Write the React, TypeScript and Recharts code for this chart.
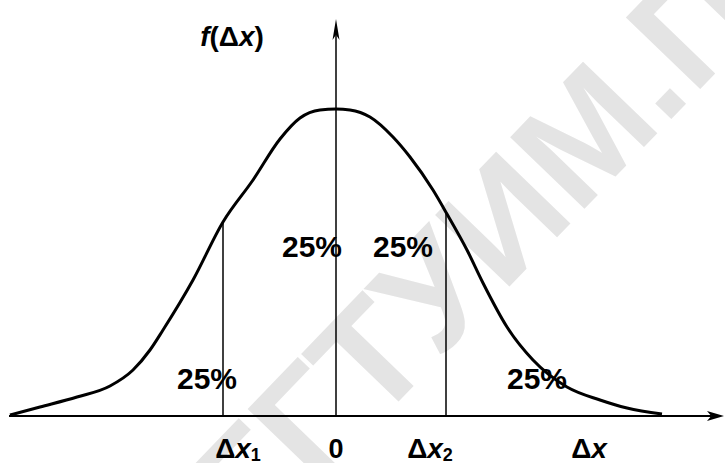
import { ComposedChart, Line, XAxis, YAxis, ReferenceLine, ReferenceDot } from 'recharts';

// density curve f(Δx), read point by point
const curveX = [-3.26, -2.96, -2.59, -2.26, -2.03, -1.86, -1.73, -1.43, -1.13, -0.83, -0.56, -0.36, -0.16, 0, 0.14, 0.34, 0.57, 0.74, 0.97, 1.11, 1.31, 1.47, 1.71, 1.97, 2.31, 2.64, 2.91, 3.26];
const curveF = [0.01, 0.09, 0.19, 0.3, 0.46, 0.66, 0.86, 1.36, 1.94, 2.36, 2.77, 2.98, 3.06, 3.07, 3.06, 2.99, 2.79, 2.59, 2.26, 2.02, 1.66, 1.33, 0.89, 0.56, 0.29, 0.16, 0.08, 0.02];

// quartile boundaries Δx1, Δx2 and the curve height there
const quartileX = [-1.13, 1.1];
const quartileF = [1.94, 2.04];

const tickValues = [-1.13, 0, 1.1, 2.53];
const tickNames = ['Δx1', '0', 'Δx2', 'Δx'];

// share of the area in each quarter
const shareText = ['25%', '25%', '25%', '25%'];
const shareX = [-1.29, -0.24, 0.67, 2.01];
const shareY = [0.27, 1.59, 1.59, 0.27];

const data = curveX.map((x, i) => ({ x, f: curveF[i] }));

const FONT = '"Liberation Sans", Arial, sans-serif';

const arrow = (len: number, half: number) => (p: any) => {
  const { x1, y1, x2, y2 } = p;
  const dx = x2 - x1;
  const dy = y2 - y1;
  const d = Math.hypot(dx, dy) || 1;
  const ux = dx / d;
  const uy = dy / d;
  const bx = x2 - ux * len;
  const by = y2 - uy * len;
  const nx = bx + ux * len * 0.25;
  const ny = by + uy * len * 0.25;
  const head = `M${x2},${y2} L${bx - uy * half},${by + ux * half} L${nx},${ny} L${bx + uy * half},${by - ux * half} Z`;
  return (
    <g>
      <line x1={x1} y1={y1} x2={nx} y2={ny} stroke="#000" strokeWidth={p.strokeWidth} />
      <path d={head} fill="#000" />
    </g>
  );
};

const labelShift: Record<string, number> = { 'Δx1': 15, 'Δx2': -16, '0': 0, 'Δx': 0 };

function AxisTick(props: any) {
  const { x, y, payload } = props;
  const i = tickValues.indexOf(payload.value);
  const name = tickNames[i] ?? '';
  const cx = x + (labelShift[name] ?? 0);
  const by = y + 42;
  if (name === '0') {
    return (
      <text x={cx} y={by} textAnchor="middle" fontFamily={FONT} fontWeight="bold" fontSize={27} fill="#000">0</text>
    );
  }
  const sub = name.slice(2);
  return (
    <text x={cx} y={by} textAnchor="middle" fontFamily={FONT} fontWeight="bold" fontSize={28} fill="#000">
      <tspan>Δ</tspan>
      <tspan fontStyle="italic">x</tspan>
      {sub && <tspan fontSize={18} dy={3}>{sub}</tspan>}
    </text>
  );
}

const shareShape = (text: string) => (p: any) => (
  <text x={p.cx} y={p.cy} textAnchor="middle" fontFamily={FONT} fontWeight="bold" fontSize={30} fill="#000">
    {text}
  </text>
);

const fLabel = (p: any) => (
  <text x={p.cx} y={p.cy} textAnchor="middle" fontFamily={FONT} fontWeight="bold" fontSize={28} fill="#000">
    <tspan fontStyle="italic">f</tspan>
    <tspan>(Δ</tspan>
    <tspan fontStyle="italic">x</tspan>
    <tspan>)</tspan>
  </text>
);

function Watermark() {
  return (
    <svg width={725} height={463} style={{ position: 'absolute', left: 0, top: 0 }}>
      <text
        x={256}
        y={549}
        transform="rotate(-46 256 549)"
        fontFamily={FONT}
        fontWeight="bold"
        fontSize={150}
        fill="#e4e4e4"
      >
        ГГТУИМ.П.О.СУХОГО
      </text>
    </svg>
  );
}

export default function App() {
  return (
    <div style={{ position: 'absolute', left: 0, top: 0, width: 725, height: 463, background: '#fff' }}>
      <Watermark />
      <div style={{ position: 'absolute', left: 0, top: 0 }}>
        <ComposedChart width={725} height={463} data={data} margin={{ top: 16, right: 1, bottom: 0, left: 6 }}>
          <XAxis
            dataKey="x"
            type="number"
            domain={[-3.3, 3.88]}
            ticks={tickValues}
            interval={0}
            axisLine={false}
            tickLine={false}
            tickSize={0}
            tickMargin={0}
            height={47}
            tick={<AxisTick />}
          />
          <YAxis hide type="number" domain={[0, 4]} />
          <ReferenceLine segment={[{ x: -3.27, y: 0 }, { x: 3.88, y: 0 }]} strokeWidth={2} shape={arrow(17, 5)} />
          <ReferenceLine segment={[{ x: 0, y: 0 }, { x: 0, y: 3.97 }]} strokeWidth={1.5} shape={arrow(21, 3.5)} />
          {quartileX.map((qx, i) => (
            <ReferenceLine key={qx} segment={[{ x: qx, y: 0 }, { x: qx, y: quartileF[i] }]} stroke="#000" strokeWidth={1.5} />
          ))}
          <Line dataKey="f" type="monotone" stroke="#000" strokeWidth={3} dot={false} activeDot={false} isAnimationActive={false} />
          {shareText.map((t, i) => (
            <ReferenceDot key={i} x={shareX[i]} y={shareY[i]} r={0} shape={shareShape(t)} />
          ))}
          <ReferenceDot x={-1.04} y={3.7} r={0} shape={fLabel} />
        </ComposedChart>
      </div>
    </div>
  );
}
